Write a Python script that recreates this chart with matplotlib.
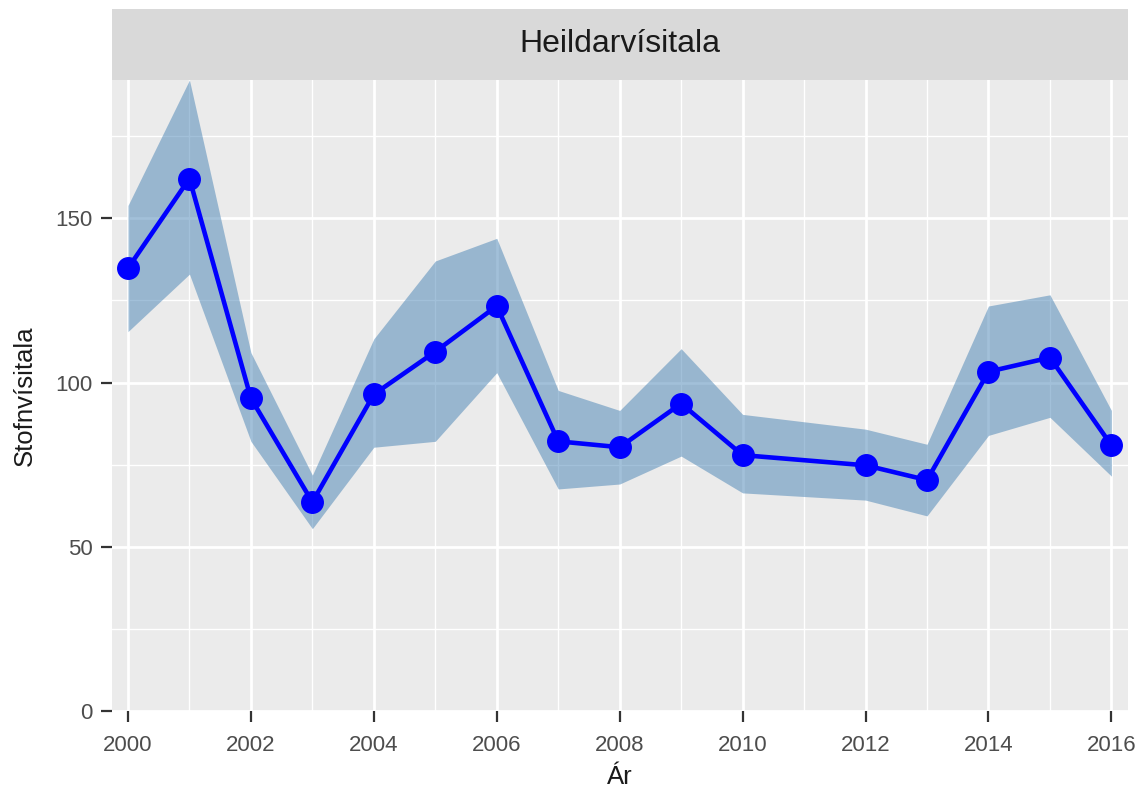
import matplotlib
matplotlib.use("Agg")
import matplotlib.pyplot as plt

years = [2000, 2001, 2002, 2003, 2004, 2005, 2006, 2007, 2008, 2009, 2010, 2012, 2013, 2014, 2015, 2016]
index = [134.8, 162.1, 95.2, 63.6, 96.4, 109.4, 123.3, 82.1, 80.3, 93.6, 77.9, 74.8, 70.3, 103.3, 107.6, 80.9]
upper = [153.9, 192.1, 109.1, 71.8, 113.3, 137.0, 143.9, 97.6, 91.5, 110.3, 90.3, 85.8, 81.2, 123.3, 126.7, 91.5]
lower = [115.5, 133.0, 82.1, 55.5, 80.3, 82.1, 103.0, 67.6, 69.1, 77.6, 66.4, 64.2, 59.4, 83.9, 89.4, 71.5]
x_ticks = [2000, 2002, 2004, 2006, 2008, 2010, 2012, 2014, 2016]
y_ticks = [0, 50, 100, 150]
strip_title = "Heildarvísitala"
x_label = "Ár"
y_label = "Stofnvísitala"

plt.rcParams['font.family'] = ['Liberation Sans', 'DejaVu Sans']

fig = plt.figure(figsize=(11.48, 7.94), dpi=100)
ax = fig.add_axes([112/1148, 1-711/794, (1128-112)/1148, (711-80)/794])
ax.set_facecolor('#EBEBEB')

ax.fill_between(years, lower, upper, color='steelblue', alpha=0.5, linewidth=0, zorder=2)
ax.plot(years, index, color='#0000FF', linewidth=3.3, zorder=3)
ax.plot(years, index, 'o', color='#0000FF', markersize=15.5, zorder=4)

ax.set_xlim(1999.74, 2016.27)
ax.set_ylim(0, max(upper))
ax.set_xticks(x_ticks)
ax.set_yticks(y_ticks)
ax.set_xticks([t + 1 for t in x_ticks[:-1]], minor=True)
ax.set_yticks([25, 75, 125, 175], minor=True)
ax.grid(which='major', color='white', linewidth=2.0, zorder=1)
ax.grid(which='minor', color='white', linewidth=1.0, zorder=1)
ax.set_axisbelow(True)
for s in ax.spines.values():
    s.set_visible(False)
ax.tick_params(which='major', length=8, width=1.6, color='#333333', labelsize=16,
               labelcolor='#4D4D4D', pad=6)
ax.tick_params(axis='x', which='major', pad=9)
ax.tick_params(which='minor', length=0)
ax.set_xlabel(x_label, fontsize=18.5, color='#1A1A1A', labelpad=7)
ax.set_ylabel(y_label, fontsize=18.5, color='#1A1A1A', labelpad=13)

# facet strip
sax = fig.add_axes([112/1148, 1-80/794, (1128-112)/1148, (80-9)/794])
sax.set_facecolor('#D9D9D9')
sax.set_xticks([]); sax.set_yticks([])
for s in sax.spines.values():
    s.set_visible(False)
sax.text(0.5, 0.5, strip_title, ha='center', va='center', fontsize=23, color='#1A1A1A',
         transform=sax.transAxes)

fig.savefig('out.png', dpi=100)
